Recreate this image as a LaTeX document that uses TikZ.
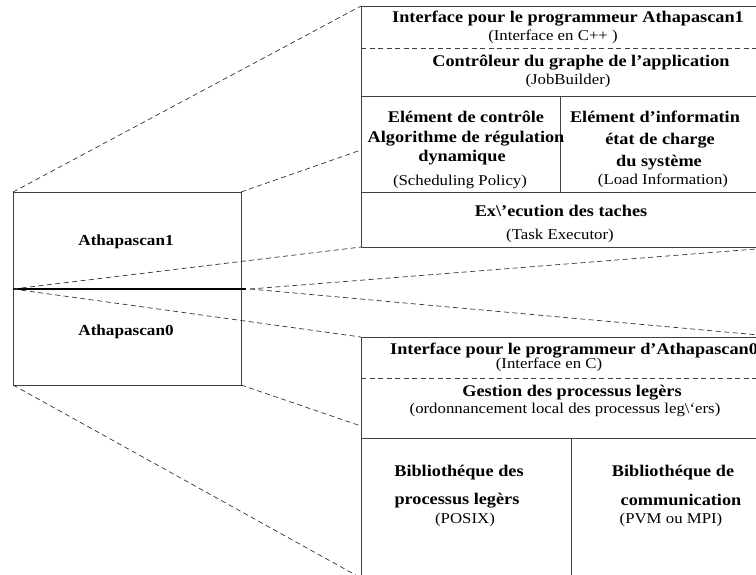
\documentclass[tikz,border=0pt]{standalone}
\usepackage{fontspec}
\setmainfont{Liberation Serif}[FakeStretch=1.12]
\begin{document}
\begin{tikzpicture}[x=1pt,y=-1pt,
  frame/.style={draw=black!75, line width=0.8pt, inner sep=0pt, outer sep=0pt, anchor=north west},
  rule/.style={draw=black!75, line width=0.8pt},
  dashrule/.style={draw=black!75, line width=0.7pt, dash pattern=on 5pt off 3.5pt},
  zoomline/.style={draw=black!80, line width=0.7pt, dash pattern=on 5pt off 3.5pt},
  split/.style={draw=black, line width=1.5pt},
  head/.style={font=\fontsize{16.3}{18}\selectfont\bfseries, inner sep=0pt},
  layer/.style={font=\fontsize{15.3}{17}\selectfont\bfseries, inner sep=0pt},
  note/.style={font=\fontsize{15}{17}\selectfont, inner sep=0pt}]
\useasboundingbox (0,0) rectangle (756,574);
\clip (0,0) rectangle (756,574);

% boxes
\node[frame, minimum width=228pt, minimum height=193pt] (host) at (13,192) {};
\node[frame, minimum width=420pt, minimum height=241pt] (upper) at (361,6) {};
\node[frame, minimum width=420pt, minimum height=241pt] (lower) at (361,337) {};

% reference points
\coordinate (midW) at (13,289);
\coordinate (midE) at (246,289);
\coordinate (fanE) at (250,289);
\coordinate (upL) at (361,150);
\coordinate (loL) at (361,426);

% layer separation in the host box
\draw[split] (midW) -- (midE);

% upper stack internal lines
\coordinate (u1L) at (361,48);  \coordinate (u1R) at (781,48);
\coordinate (u2L) at (361,96);  \coordinate (u2R) at (781,96);
\coordinate (u3L) at (361,192); \coordinate (u3R) at (781,192);
\coordinate (uvT) at (560,96);  \coordinate (uvB) at (560,192);
\draw[dashrule] (u1L) -- (u1R);
\draw[rule] (u2L) -- (u2R);
\draw[rule] (u3L) -- (u3R);
\draw[rule] (uvT) -- (uvB);

% lower stack internal lines
\coordinate (l1L) at (361,378); \coordinate (l1R) at (781,378);
\coordinate (l2L) at (361,438); \coordinate (l2R) at (781,438);
\coordinate (lvT) at (571,438); \coordinate (lvB) at (571,578);
\draw[dashrule] (l1L) -- (l1R);
\draw[rule] (l2L) -- (l2R);
\draw[rule] (lvT) -- (lvB);

% zoom lines
\draw[zoomline] (host.north west) -- (upper.north west);
\draw[zoomline] (host.north east) -- (upL);
\draw[zoomline] (midW) -- (upper.south west);
\draw[zoomline] (fanE) -- (upper.south east);
\draw[zoomline] (fanE) -- (lower.north east);
\draw[zoomline] (midW) -- (lower.north west);
\draw[zoomline] (host.south east) -- (loL);
\draw[zoomline] (host.south west) -- (lower.south west);

% host labels
\node[layer] (a1) at (126,242) {Athapascan1};
\node[layer] (a0) at (126,332) {Athapascan0};

% upper stack labels
\node[head] (u1) at (568,19) {Interface pour le programmeur Athapascan1};
\node[note] (u1s) at (553,37) {(Interface en C++ )};
\node[head] (u2) at (581,63) {Contrôleur du graphe de l'application};
\node[note] (u2s) at (568,81) {(JobBuilder)};
\node[head] (c1) at (466,117) {Elément de contrôle};
\node[head] (c2) at (466,139) {Algorithme de régulation};
\node[head] (c3) at (462,158) {dynamique};
\node[note] (c4) at (460,182) {(Scheduling Policy)};
\node[head] (i1) at (655,117) {Elément d'informatin};
\node[head] (i2) at (660,141) {état de charge};
\node[head] (i3) at (659,163) {du système};
\node[note] (i4) at (663,181) {(Load Information)};
\node[head] (x1) at (561,211) {Ex\textbackslash{}'ecution des taches};
\node[note] (x2) at (560,236) {(Task Executor)};

% lower stack labels
\node[head, anchor=west] (p1) at (390,351) {Interface pour le programmeur d'Athapascan0};
\node[note] (p1s) at (549,365) {(Interface en C)};
\node[head] (g1) at (572,393) {Gestion des processus legèrs};
\node[note] (g2) at (565,410) {(ordonnancement local des processus leg\textbackslash{}`ers)};
\node[head] (b1) at (459,473) {Bibliothéque des};
\node[head] (b2) at (457,501) {processus legèrs};
\node[note] (b3) at (465,520) {(POSIX)};
\node[head] (m1) at (673,473) {Bibliothéque de};
\node[head] (m2) at (681,500) {communication};
\node[note] (m3) at (671,520) {(PVM ou MPI)};
\end{tikzpicture}
\end{document}
